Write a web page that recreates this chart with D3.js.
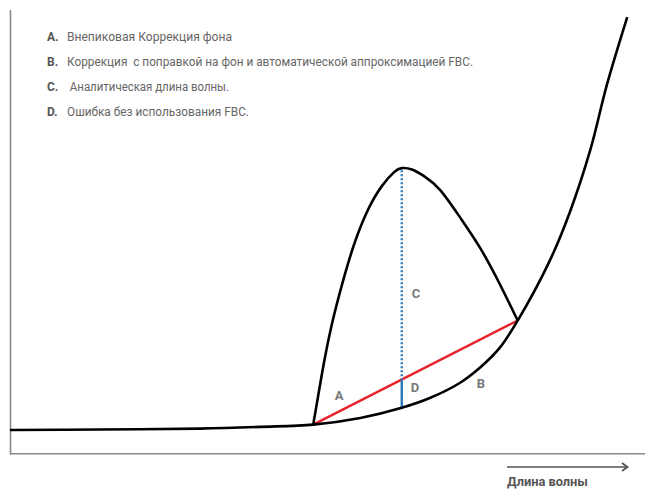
<!DOCTYPE html>
<html><head><meta charset="utf-8">
<script src="https://cdn.jsdelivr.net/npm/d3@7"></script>
<style>
html,body{margin:0;padding:0;background:#fff;}
svg{display:block;}
text{font-family:Roboto,"Liberation Sans",sans-serif;}
</style></head>
<body>
<script>
// ---- data (x: wavelength units 0..100, y: intensity units 0..100) ----
const backgroundX = [0, 14.1, 29.8, 39.3, 47.6, 55.0, 61.5, 65.9, 70.6, 73.8, 76.9, 79.7, 84.8, 87.9, 91.1, 93.7, 96.9];
const backgroundY = [5.2, 5.3, 5.5, 5.9, 6.4, 7.9, 10.2, 12.4, 15.8, 19.3, 23.8, 29.9, 43.6, 54.4, 68.4, 83.1, 98.4];
const peakX = [47.6, 48.4, 49.3, 50.5, 52.1, 54.0, 56.2, 58.4, 60.3, 61.5, 63.1, 65.0, 67.5, 70.6, 73.8, 76.9, 79.7];
const peakY = [6.4, 13.1, 20.5, 28.9, 37.9, 47.0, 54.9, 60.3, 63.4, 64.3, 64.0, 62.5, 59.4, 53.3, 46.3, 38.1, 29.9];
const chordX = [47.6, 79.7];
const chordY = [6.4, 29.9];
const analyticX = 61.5;
const legendKeys = ["A.", "B.", "C.", "D."];
const legendTexts = ["Внепиковая Коррекция фона",
  "Коррекция  с поправкой на фон и автоматической аппроксимацией FBC.",
  " Аналитическая длина волны.",
  "Ошибка без использования FBC."];
const axisLabel = "Длина волны";

const W = 647, H = 489;
const svg = d3.select("body").append("svg").attr("width", W).attr("height", H);
const x = d3.scaleLinear().domain([0, 100]).range([10, 647]);
const y = d3.scaleLinear().domain([0, 100]).range([453, 10]);

// axes frame
svg.append("line").attr("x1", 10.5).attr("x2", 10.5).attr("y1", 10).attr("y2", 454.5)
  .attr("stroke", "#8a8a8a").attr("stroke-width", 1.6);
svg.append("line").attr("x1", 10).attr("x2", 645).attr("y1", 453.8).attr("y2", 453.8)
  .attr("stroke", "#8a8a8a").attr("stroke-width", 1.6);

// axis arrow + label
svg.append("line").attr("x1", 507).attr("x2", 627).attr("y1", 467).attr("y2", 467)
  .attr("stroke", "#555").attr("stroke-width", 1.5);
svg.append("path").attr("d", "M622,463 L627.5,467 L622,471")
  .attr("fill", "none").attr("stroke", "#555").attr("stroke-width", 1.8);
svg.append("text").attr("x", 507).attr("y", 486).text(axisLabel)
  .attr("font-weight", "bold").attr("font-size", 12).attr("fill", "#555")
  .attr("textLength", 81).attr("lengthAdjust", "spacingAndGlyphs");

// legend
const legendW = [165, 406, 162, 182];
legendKeys.forEach((k, i) => {
  const yy = 41 + i * 25;
  svg.append("text").attr("x", 47).attr("y", yy).text(k)
    .attr("font-weight", "bold").attr("font-size", 12).attr("fill", "#555");
  svg.append("text").attr("x", 67).attr("y", yy).text(legendTexts[i])
    .attr("font-size", 12).attr("fill", "#666").attr("xml:space", "preserve")
    .style("white-space", "pre")
    .attr("textLength", legendW[i]).attr("lengthAdjust", "spacingAndGlyphs");
});

const lineBg = d3.line().x(d => x(d[0])).y(d => y(d[1])).curve(d3.curveCatmullRom.alpha(0.5));
const linePk = d3.line().x(d => x(d[0])).y(d => y(d[1])).curve(d3.curveNatural);
const bg = backgroundX.map((v, i) => [v, backgroundY[i]]);
const pk = peakX.map((v, i) => [v, peakY[i]]);

// chord (red)
svg.append("line")
  .attr("x1", x(chordX[0])).attr("y1", y(chordY[0]))
  .attr("x2", x(chordX[1])).attr("y2", y(chordY[1]))
  .attr("stroke", "#e8232b").attr("stroke-width", 2.4);

// analytic wavelength
const chordAt = chordY[0] + (chordY[1] - chordY[0]) * (analyticX - chordX[0]) / (chordX[1] - chordX[0]);
const bgAt = backgroundY[backgroundX.indexOf(analyticX)];
const peakAt = peakY[peakX.indexOf(analyticX)];
svg.append("line")
  .attr("x1", x(analyticX)).attr("x2", x(analyticX))
  .attr("y1", y(peakAt) + 2).attr("y2", y(chordAt))
  .attr("stroke", "#2a78b8").attr("stroke-width", 2.4).attr("stroke-dasharray", "2,2");
svg.append("line")
  .attr("x1", x(analyticX)).attr("x2", x(analyticX))
  .attr("y1", y(chordAt)).attr("y2", y(bgAt))
  .attr("stroke", "#2a78b8").attr("stroke-width", 2.4);

// curves
svg.append("path").attr("d", lineBg(bg)).attr("fill", "none")
  .attr("stroke", "#000").attr("stroke-width", 2.6);
svg.append("path").attr("d", linePk(pk)).attr("fill", "none")
  .attr("stroke", "#000").attr("stroke-width", 2.6);

// region labels
const labels = [["A", 339, 395], ["C", 416, 293], ["D", 415, 387], ["B", 481, 383]];
labels.forEach(l => {
  svg.append("text").attr("x", l[1]).attr("y", l[2]).text(l[0])
    .attr("text-anchor", "middle").attr("dominant-baseline", "central")
    .attr("font-weight", "bold").attr("font-size", 13).attr("fill", "#777");
});
</script>
</body></html>
